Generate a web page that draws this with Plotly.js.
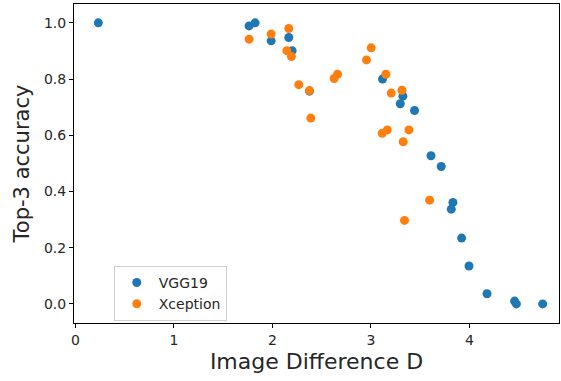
<!DOCTYPE html>
<html>
<head>
<meta charset="utf-8">
<script src="https://cdn.plot.ly/plotly-3.0.1.min.js"></script>
<style>html,body{margin:0;padding:0;background:#fff;}#chart{width:561px;height:381px;}</style>
</head>
<body>
<div id="chart"></div>
<script>
const vggD   = [0.232, 1.763, 1.824, 1.987, 2.166, 2.200, 2.376, 3.118, 3.325, 3.298, 3.443, 3.610, 3.714, 3.833, 3.816, 3.921, 3.996, 4.179, 4.459, 4.477, 4.744];
const vggAcc = [1.000, 0.989, 1.000, 0.936, 0.948, 0.901, 0.757, 0.800, 0.739, 0.712, 0.688, 0.527, 0.489, 0.361, 0.337, 0.234, 0.135, 0.036, 0.010, 0.000, 0.000];
const xcpD   = [1.763, 1.987, 2.166, 2.146, 2.193, 2.268, 2.376, 2.390, 2.627, 2.661, 2.955, 3.003, 3.152, 3.206, 3.315, 3.115, 3.166, 3.386, 3.328, 3.596, 3.341];
const xcpAcc = [0.942, 0.960, 0.980, 0.901, 0.880, 0.780, 0.759, 0.661, 0.802, 0.817, 0.868, 0.911, 0.817, 0.750, 0.760, 0.607, 0.619, 0.619, 0.577, 0.369, 0.297];
const seriesNames = ['VGG19', 'Xception'];
const xTicks = [0, 1, 2, 3, 4];
const yTicks = [0.0, 0.2, 0.4, 0.6, 0.8, 1.0];

const font = 'DejaVu Sans, sans-serif';
const traces = [
  {x: vggD, y: vggAcc, name: seriesNames[0], mode: 'markers', type: 'scatter',
   marker: {color: '#1f77b4', size: 9}},
  {x: xcpD, y: xcpAcc, name: seriesNames[1], mode: 'markers', type: 'scatter',
   marker: {color: '#ff7f0e', size: 9}}
];
const axisCommon = {
  showline: true, linecolor: '#000', linewidth: 1, mirror: true,
  ticks: 'outside', ticklen: 4, tickcolor: '#000', tickwidth: 1,
  showgrid: false, zeroline: false,
  tickfont: {family: font, size: 14, color: '#262626'}
};
const layout = {
  width: 561, height: 381,
  margin: {l: 74, r: 2, t: 4, b: 58},
  paper_bgcolor: '#fff', plot_bgcolor: '#fff',
  showlegend: true,
  xaxis: Object.assign({}, axisCommon, {
    range: [-0.015, 4.91], tickvals: xTicks, ticktext: xTicks.map(String),
    title: {text: 'Image Difference D', font: {family: font, size: 22, color: '#262626'}, standoff: 6}
  }),
  yaxis: Object.assign({}, axisCommon, {
    range: [-0.068, 1.067], tickvals: yTicks, ticktext: yTicks.map(v => v.toFixed(1)),
    title: {text: 'Top-3 accuracy', font: {family: font, size: 21, color: '#262626'}, standoff: 8}
  }),
  legend: {
    x: 0.082, y: 0.179, xanchor: 'left', yanchor: 'top',
    bgcolor: '#fff', bordercolor: '#d0d0d0', borderwidth: 1,
    font: {family: font, size: 14, color: '#262626'},
    itemwidth: 34,
    tracegroupgap: 0
  }
};
Plotly.newPlot('chart', traces, layout, {displayModeBar: false, staticPlot: true});
</script>
</body>
</html>
